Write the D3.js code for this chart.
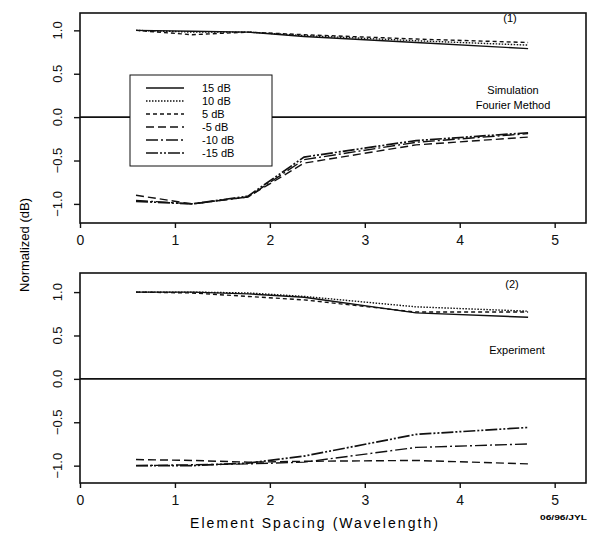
<!DOCTYPE html>
<html>
<head>
<meta charset="utf-8">
<script src="https://d3js.org/d3.v7.min.js"></script>
<style>
  body { margin: 0; background: #fff; }
  svg { font-family: "Liberation Sans", Arial, sans-serif; }
</style>
</head>
<body>
<div id="chart"></div>
<script>
// element spacing (wavelength) where every curve was sampled
var spacing = [0.59, 1.18, 1.77, 2.36, 3.54, 4.72];

// panel (1): simulation, Fourier method
var sim15  = [1.00, 0.99, 0.98, 0.93, 0.86, 0.79];
var sim10  = [1.00, 0.98, 0.98, 0.94, 0.88, 0.83];
var sim5   = [1.00, 0.95, 0.98, 0.95, 0.90, 0.86];
var simM5  = [-0.90, -1.00, -0.92, -0.53, -0.32, -0.23];
var simM10 = [-0.96, -1.00, -0.92, -0.49, -0.29, -0.19];
var simM15 = [-0.97, -1.00, -0.91, -0.46, -0.27, -0.18];

// panel (2): experiment
var exp15  = [1.00, 1.00, 0.98, 0.94, 0.76, 0.71];
var exp10  = [1.00, 1.00, 0.99, 0.95, 0.83, 0.78];
var exp5   = [1.00, 0.99, 0.95, 0.91, 0.77, 0.77];
var expM5  = [-0.93, -0.94, -0.96, -0.95, -0.94, -0.98];
var expM10 = [-1.00, -0.99, -0.98, -0.96, -0.79, -0.75];
var expM15 = [-1.00, -1.00, -0.97, -0.89, -0.64, -0.56];

var seriesNames = ["15 dB", "10 dB", "5 dB", "-5 dB", "-10 dB", "-15 dB"];
var xTicks = [0, 1, 2, 3, 4, 5];
var yTicks = [-1.0, -0.5, 0.0, 0.5, 1.0];

// line styles, same order as seriesNames
var dashes = [null, "1.5,1.5", "4,3", "8,4", "12,3,2,3", "12,2,2,2,2,2"];

var W = 593, H = 533;
var svg = d3.select("#chart").append("svg")
  .attr("width", W).attr("height", H);

var x = d3.scaleLinear().domain([0, 5.33]).range([80, 586]);

var panels = [
  { data: [sim15, sim10, sim5, simM5, simM10, simM15], top: 13, bottom: 223, lo: -1.22, hi: 1.2 },
  { data: [exp15, exp10, exp5, expM5, expM10, expM15], top: 273, bottom: 483, lo: -1.2, hi: 1.22 }
];

panels.forEach(function(p, pi) {
  var y = d3.scaleLinear().domain([p.lo, p.hi]).range([p.bottom, p.top]);
  var g = svg.append("g");

  // zero line
  g.append("line")
    .attr("x1", x(0)).attr("x2", x(5.33))
    .attr("y1", y(0)).attr("y2", y(0))
    .attr("stroke", "#111").attr("stroke-width", 1.6);

  // curves
  var line = d3.line()
    .x(function(d, i) { return x(spacing[i]); })
    .y(function(d) { return y(d); });

  p.data.forEach(function(s, si) {
    g.append("path")
      .attr("d", line(s))
      .attr("fill", "none")
      .attr("stroke", "#111")
      .attr("stroke-width", si == 5 ? 1.7 : 1.4)
      .attr("stroke-dasharray", dashes[si]);
  });

  // frame
  g.append("rect")
    .attr("x", x(0)).attr("y", p.top)
    .attr("width", x(5.33) - x(0)).attr("height", p.bottom - p.top)
    .attr("fill", "none").attr("stroke", "#111").attr("stroke-width", 1.6);

  // x axis
  var xa = g.append("g")
    .attr("transform", "translate(0," + p.bottom + ")")
    .call(d3.axisBottom(x).tickValues(xTicks).tickSize(5).tickFormat(d3.format("d")));
  xa.select(".domain").remove();
  xa.selectAll("line").attr("stroke", "#111").attr("stroke-width", 1.4);
  xa.selectAll("text")
    .attr("font-size", 14).attr("fill", "#111")
    .attr("font-family", "Liberation Sans, Arial, sans-serif")
    .attr("dy", "1.0em");

  // y axis: ticks only, labels drawn rotated below
  var ya = g.append("g")
    .attr("transform", "translate(" + x(0) + ",0)")
    .call(d3.axisLeft(y).tickValues(yTicks).tickSize(6).tickFormat(""));
  ya.select(".domain").remove();
  ya.selectAll("line").attr("stroke", "#111").attr("stroke-width", 1.4);

  yTicks.forEach(function(t) {
    var ty = y(t);
    svg.append("text")
      .attr("x", 62).attr("y", ty)
      .attr("transform", "rotate(-90 62 " + ty + ")")
      .attr("text-anchor", "middle")
      .attr("font-size", 13)
      .attr("fill", "#111")
      .text(d3.format(".1f")(t));
  });
});

// panel notes
svg.append("text").attr("x", 510).attr("y", 22).attr("text-anchor", "middle")
  .attr("font-size", 11).text("(1)");
svg.append("text").attr("x", 513).attr("y", 94).attr("text-anchor", "middle")
  .attr("font-size", 11).text("Simulation");
svg.append("text").attr("x", 513).attr("y", 109).attr("text-anchor", "middle")
  .attr("font-size", 11).text("Fourier Method");
svg.append("text").attr("x", 512).attr("y", 288).attr("text-anchor", "middle")
  .attr("font-size", 11).text("(2)");
svg.append("text").attr("x", 517).attr("y", 354).attr("text-anchor", "middle")
  .attr("font-size", 11).text("Experiment");

// legend (sits on top of the zero line in panel 1)
var lg = svg.append("g");
lg.append("rect").attr("x", 130).attr("y", 75).attr("width", 142).attr("height", 91)
  .attr("fill", "#fff").attr("stroke", "#111").attr("stroke-width", 1);
seriesNames.forEach(function(name, i) {
  var yy = 88 + i * 13;
  lg.append("line").attr("x1", 146).attr("x2", 184).attr("y1", yy).attr("y2", yy)
    .attr("stroke", "#111").attr("stroke-width", i == 5 ? 1.7 : 1.4)
    .attr("stroke-dasharray", dashes[i]);
  lg.append("text").attr("x", 202).attr("y", yy + 4)
    .attr("font-size", 11).text(name);
});

// axis titles
svg.append("text")
  .attr("transform", "translate(29,245) rotate(-90)")
  .attr("text-anchor", "middle").attr("font-size", 13)
  .text("Normalized (dB)");
svg.append("text")
  .attr("x", 190).attr("y", 528)
  .attr("font-size", 14).attr("textLength", 248).attr("lengthAdjust", "spacing")
  .text("Element Spacing (Wavelength)");
svg.append("text")
  .attr("x", 540).attr("y", 520)
  .attr("font-size", 7).attr("font-weight", "bold")
  .attr("textLength", 47).attr("lengthAdjust", "spacingAndGlyphs")
  .text("06/96/JYL");
</script>
</body>
</html>
